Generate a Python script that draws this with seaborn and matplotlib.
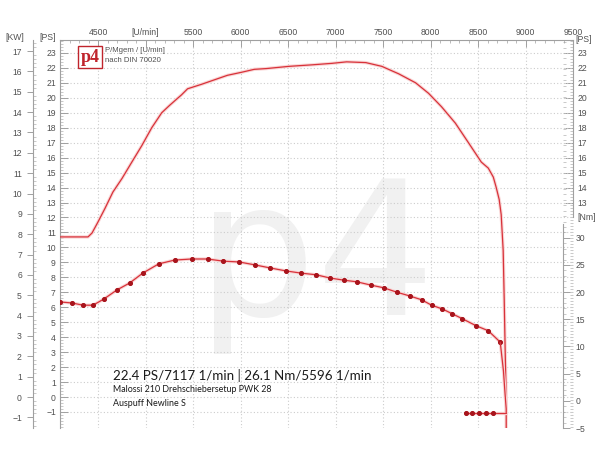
import matplotlib
matplotlib.use('Agg')
import matplotlib.pyplot as plt
import seaborn as sns
import pandas as pd
from matplotlib.ticker import MultipleLocator

# ---------------- data ----------------
power_rpm = [4102, 4207, 4311, 4395, 4437, 4500, 4573, 4657, 4752, 4856, 4961, 5066,
             5171, 5255, 5380, 5443, 5590, 5726, 5862, 6009, 6145, 6271, 6512, 6753,
             6963, 7117, 7319, 7487, 7665, 7843, 7979, 8116, 8262, 8399, 8535, 8608,
             8661, 8692, 8723, 8744, 8765, 8776, 8786, 8797, 8797]
power_ps = [10.7, 10.7, 10.7, 10.7, 10.96, 11.7, 12.6, 13.7, 14.6, 15.7, 16.8, 18.0,
            19.0, 19.5, 20.2, 20.6, 20.9, 21.2, 21.5, 21.7, 21.9, 21.95, 22.1, 22.2,
            22.3, 22.4, 22.35, 22.1, 21.6, 21.0, 20.3, 19.4, 18.3, 17.0, 15.7, 15.3,
            14.7, 14.0, 13.2, 12.2, 9.8, 6.5, 3.1, -0.2, -2.3]

torque_rpm = [4102, 4227, 4343, 4448, 4563, 4699, 4835, 4971, 5139, 5306, 5485, 5653,
              5820, 5988, 6156, 6313, 6481, 6638, 6795, 6942, 7089, 7225, 7372, 7508,
              7644, 7780, 7906, 8011, 8126, 8231, 8336, 8482, 8608, 8734]
torque_nm = [18.2, 18.0, 17.6, 17.6, 18.75, 20.4, 21.7, 23.5, 25.2, 25.9, 26.1, 26.1,
             25.7, 25.55, 25.0, 24.45, 23.9, 23.5, 23.2, 22.6, 22.2, 21.9, 21.3, 20.8,
             20.0, 19.3, 18.6, 17.6, 16.9, 16.0, 15.1, 13.8, 12.9, 10.8]
drop_rpm = [8734, 8768, 8786, 8797, 8797]
drop_nm = [10.8, 5.5, 1.0, -1.5, -2.2]
tail_rpm = [8378, 8441, 8514, 8587, 8661]
tail_nm = [-2.2, -2.2, -2.2, -2.2, -2.2]
tail_link_rpm = [8661, 8797]
tail_link_nm = [-2.2, -2.2]

rpm_ticks = [4500, 5000, 5500, 6000, 6500, 7000, 7500, 8000, 8500, 9000, 9500]
rpm_labels = ['4500', '[U/min]', '5500', '6000', '6500', '7000', '7500', '8000',
              '8500', '9000', '9500']
ps_ticks_left = list(range(-1, 24))
ps_ticks_right = list(range(13, 24))
kw_ticks = list(range(-1, 18))
nm_ticks = [-5, 0, 5, 10, 15, 20, 25, 30]

summary_text = "22.4 PS/7117 1/min | 26.1 Nm/5596 1/min"
setup_text = "Malossi 210 Drehschiebersetup PWK 28"
exhaust_text = "Auspuff Newline S"
header1 = "P/Mgem / [U/min]"
header2 = "nach DIN 70020"

# ---------------- style ----------------
sns.set_theme(style='white')
plt.rcParams['font.family'] = ['Liberation Sans', 'DejaVu Sans']

RED = '#d8323a'
DARKRED = '#a8141c'
HALO = '#f9d6d6'
SPINE = '#a0a0a0'
TXT = '#505050'
GRID = '#cccccc'

fig = plt.figure(figsize=(6, 4.5), dpi=100)
fig.patch.set_facecolor('white')
ax = fig.add_axes([60/600, 22/450, 513/600, 388/450])
ax.set_facecolor('white')
ax.set_xlim(4100, 9500)
ax.set_ylim(-2.07, 23.86)

# grid
ax.set_yticks(ps_ticks_left)
ax.set_xticks(rpm_ticks)
ax.set_xticklabels(rpm_labels)
ax.grid(True, which='major', linestyle=(0, (1, 2)), color=GRID, linewidth=0.8)
ax.set_axisbelow(True)

# watermark
ax.text(0.50, 0.29, 'p4', transform=ax.transAxes, fontsize=135, color='#f1f1f1',
        ha='center', va='baseline', zorder=0.5, family='DejaVu Sans')

# power curve
pdf = pd.DataFrame({'rpm': power_rpm, 'ps': power_ps})
sns.lineplot(data=pdf, x='rpm', y='ps', ax=ax, estimator=None, sort=False,
             color=HALO, linewidth=2.4, zorder=2)
sns.lineplot(data=pdf, x='rpm', y='ps', ax=ax, estimator=None, sort=False,
             color=RED, linewidth=0.9, zorder=3)

# x axis on top
ax.xaxis.tick_top()
ax.tick_params(axis='x', which='major', direction='in', length=5, width=0.7,
               color=SPINE, labelsize=6.2, labelcolor=TXT, pad=2, top=True, bottom=False)
ax.xaxis.set_minor_locator(MultipleLocator(100))
ax.tick_params(axis='x', which='minor', direction='in', length=2.5, width=0.5,
               color=SPINE, top=True, bottom=False)
ax.set_xlabel('')
ax.set_ylabel('')

# left PS axis
ax.yaxis.set_minor_locator(MultipleLocator(0.2))
ax.tick_params(axis='y', which='major', direction='in', length=6, width=0.7,
               color=SPINE, labelsize=6.2, labelcolor=TXT, pad=3, left=True, right=False)
ax.tick_params(axis='y', which='minor', direction='in', length=2.5, width=0.4,
               color=SPINE, left=True, right=False)
for s in ['bottom', 'right']:
    ax.spines[s].set_visible(False)
for s in ['top', 'left']:
    ax.spines[s].set_color(SPINE)
    ax.spines[s].set_linewidth(0.8)

# kW axis
kw = ax.secondary_yaxis(-27/513, functions=(lambda p: p / 1.36, lambda k: k * 1.36))
kw.set_yticks(kw_ticks)
kw.yaxis.set_minor_locator(MultipleLocator(0.2))
kw.tick_params(axis='y', which='major', direction='out', length=4, width=0.7,
               color=SPINE, labelsize=6.2, labelcolor=TXT, pad=4)
kw.tick_params(axis='y', which='minor', direction='in', length=2, width=0.4, color=SPINE)
kw.spines['left'].set_color(SPINE)
kw.spines['left'].set_linewidth(0.8)

# right PS axis (upper part)
psr = ax.secondary_yaxis('right', functions=(lambda p: p, lambda p: p))
psr.set_yticks(ps_ticks_right)
psr.yaxis.set_minor_locator(MultipleLocator(0.2))
psr.tick_params(axis='y', which='major', direction='in', length=6, width=0.7,
                color=SPINE, labelsize=6.2, labelcolor=TXT, pad=3)
psr.tick_params(axis='y', which='minor', direction='in', length=2.5, width=0.4, color=SPINE)
psr.spines['right'].set_bounds(12.0, 23.86)
psr.spines['right'].set_color(SPINE)
psr.spines['right'].set_linewidth(0.8)

# torque axis
ax2 = ax.twinx()
ax2.set_ylim(-5, 66.4)
ax2.grid(False)
for s in ['top', 'left', 'bottom']:
    ax2.spines[s].set_visible(False)
ax2.spines['right'].set_position(('axes', 503/513))
ax2.spines['right'].set_bounds(-5, 32.6)
ax2.spines['right'].set_color(SPINE)
ax2.spines['right'].set_linewidth(0.8)
ax2.set_yticks(nm_ticks)
ax2.tick_params(axis='y', which='major', direction='out', length=5, width=0.7,
                color=SPINE, labelsize=6.2, labelcolor=TXT, pad=4)
ax2.minorticks_on()
ax2.yaxis.set_minor_locator(MultipleLocator(1))
ax2.tick_params(axis='y', which='minor', direction='out', length=2.5, width=0.4, color=SPINE)
ax2.tick_params(axis='x', which='both', bottom=False, top=False)

tdf = pd.DataFrame({'rpm': torque_rpm, 'nm': torque_nm})
ddf = pd.DataFrame({'rpm': drop_rpm, 'nm': drop_nm})
tldf = pd.DataFrame({'rpm': tail_rpm, 'nm': tail_nm})
lkdf = pd.DataFrame({'rpm': tail_link_rpm, 'nm': tail_link_nm})
for d in (tdf, ddf, tldf, lkdf):
    sns.lineplot(data=d, x='rpm', y='nm', ax=ax2, estimator=None, sort=False,
                 color=HALO, linewidth=2.4, zorder=2)
sns.lineplot(data=tdf, x='rpm', y='nm', ax=ax2, estimator=None, sort=False,
             color=RED, linewidth=0.9, marker='o', markersize=2.9,
             markerfacecolor=DARKRED, markeredgecolor=DARKRED, zorder=3)
sns.lineplot(data=ddf, x='rpm', y='nm', ax=ax2, estimator=None, sort=False,
             color=RED, linewidth=0.9, zorder=3)
sns.lineplot(data=lkdf, x='rpm', y='nm', ax=ax2, estimator=None, sort=False,
             color=RED, linewidth=0.9, zorder=3)
sns.lineplot(data=tldf, x='rpm', y='nm', ax=ax2, estimator=None, sort=False,
             color=RED, linewidth=0.9, marker='o', markersize=2.9,
             markerfacecolor=DARKRED, markeredgecolor=DARKRED, zorder=3)
ax2.set_xlabel('')
ax2.set_ylabel('')
ax2.set_xlim(4100, 9500)

# unit labels
fig.text(15/600, 1 - 37/450, '[KW]', fontsize=6.2, color=TXT, ha='center', va='center')
fig.text(48/600, 1 - 37/450, '[PS]', fontsize=6.2, color=TXT, ha='center', va='center')
fig.text(584/600, 1 - 40/450, '[PS]', fontsize=6.2, color=TXT, ha='center', va='center')
fig.text(587/600, 1 - 218/450, '[Nm]', fontsize=6.2, color=TXT, ha='center', va='center')

# logo and header
ax.text(30/513, (428 - 57)/388, 'p4', transform=ax.transAxes, fontsize=13,
        fontweight='bold', family='Liberation Serif', color='#c0242c', ha='center',
        va='center', zorder=6,
        bbox=dict(boxstyle='square,pad=0.12', fc='white', ec='#c0242c', lw=1.0))
ax.text(45/513, (428 - 51)/388, header1, transform=ax.transAxes, fontsize=5.6,
        color=TXT, ha='left', va='center', zorder=6)
ax.text(45/513, (428 - 61)/388, header2, transform=ax.transAxes, fontsize=5.6,
        color=TXT, ha='left', va='center', zorder=6)

# result text
ax.text(53/513, (428 - 375)/388, summary_text, transform=ax.transAxes, fontsize=9.6,
        family='Lato', color='#1a1a1a', ha='left', va='center', zorder=6)
ax.text(53/513, (428 - 390)/388, setup_text, transform=ax.transAxes, fontsize=6.4,
        family='Lato', color='#1a1a1a', ha='left', va='center', zorder=6)
ax.text(53/513, (428 - 404)/388, exhaust_text, transform=ax.transAxes, fontsize=6.4,
        family='Lato', color='#1a1a1a', ha='left', va='center', zorder=6)

fig.savefig('out.png', dpi=100, facecolor='white')
